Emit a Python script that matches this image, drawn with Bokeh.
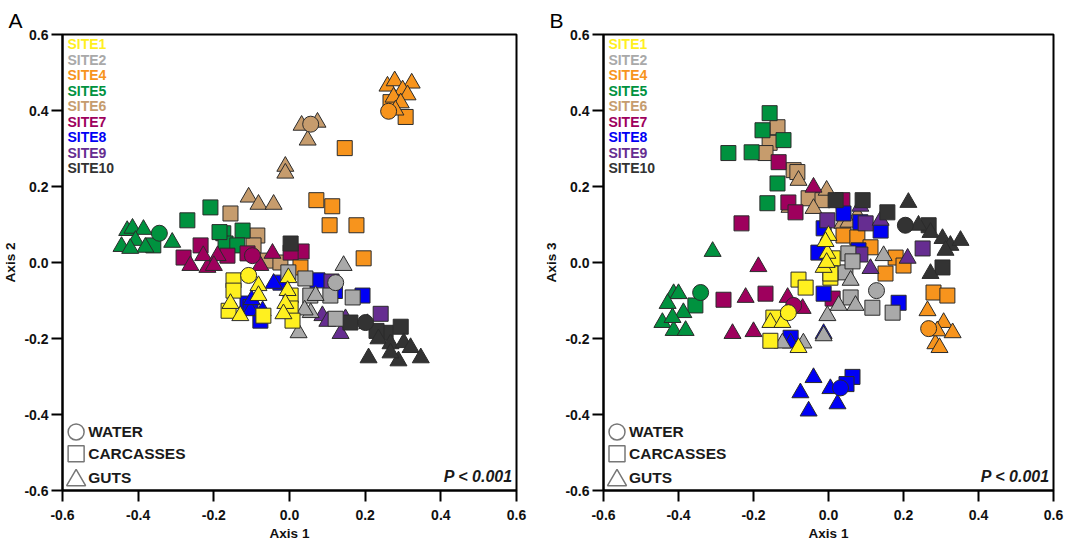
from bokeh.plotting import figure
from bokeh.layouts import row
from bokeh.models import FixedTicker, PrintfTickFormatter, Label
from bokeh.embed import file_html
from bokeh.resources import INLINE

# ---------------- data ----------------
SITES = ["SITE1", "SITE2", "SITE4", "SITE5", "SITE6", "SITE7", "SITE8", "SITE9", "SITE10"]
COLORS = ["#FFF01F", "#A9A9A9", "#F7941D", "#00923F", "#C69C6D",
          "#9E005D", "#0000F5", "#662D91", "#333333"]
TICKS = [-0.6, -0.4, -0.2, 0.0, 0.2, 0.4, 0.6]
SAMPLE_TYPES = ["WATER", "CARCASSES", "GUTS"]
P_TEXT = "P < 0.001"
PANELS = ["A", "B"]
X_LABEL = "Axis 1"
Y_LABELS = ["Axis 2", "Axis 3"]

# panel A (Axis 1 vs Axis 2): c = water, s = carcasses, t = guts
A_SITE1 = {"c": [(-0.108, -0.034)],
           "s": [(-0.148, -0.047), (-0.148, -0.074), (-0.161, -0.127), (-0.069, -0.140),
                 (0.003, -0.087), (0.003, -0.121), (0.008, -0.153)],
           "t": [(-0.082, -0.061), (-0.082, -0.087), (-0.156, -0.108), (-0.130, -0.140),
                 (-0.003, -0.040), (-0.005, -0.074), (-0.011, -0.108), (-0.016, -0.135)]}
A_SITE2 = {"c": [(0.122, -0.053)],
           "s": [(0.042, -0.042), (-0.003, -0.026), (0.108, -0.087), (0.167, -0.092),
                 (0.122, -0.148), (0.055, -0.087)],
           "t": [(0.143, -0.008), (0.069, -0.087), (0.056, -0.132), (0.024, -0.185), (0.040, -0.125)]}
A_SITE4 = {"c": [(0.262, 0.398)],
           "s": [(0.307, 0.383), (0.267, 0.422), (0.146, 0.301), (0.071, 0.164), (0.113, 0.148),
                 (0.106, 0.098), (0.177, 0.098), (0.196, 0.011), (0.029, -0.013)],
           "t": [(0.259, 0.464), (0.278, 0.478), (0.323, 0.472), (0.299, 0.454), (0.312, 0.441),
                 (0.275, 0.435), (0.294, 0.420), (0.280, 0.401)]}
A_SITE5 = {"c": [(-0.344, 0.077)],
           "s": [(-0.270, 0.111), (-0.209, 0.145), (-0.175, 0.077), (-0.169, 0.050), (-0.124, 0.084),
                 (-0.138, 0.045), (-0.185, 0.080), (-0.360, 0.045)],
           "t": [(-0.429, 0.084), (-0.415, 0.090), (-0.386, 0.087), (-0.444, 0.042), (-0.407, 0.058),
                 (-0.381, 0.040), (-0.310, 0.053), (-0.421, 0.037)]}
A_SITE6 = {"c": [(0.056, 0.364)],
           "s": [(-0.156, 0.129), (-0.085, 0.071), (-0.095, 0.045), (-0.058, 0.005), (-0.024, 0.000)],
           "t": [(0.032, 0.361), (0.074, 0.369), (0.048, 0.322), (-0.011, 0.253), (-0.011, 0.235),
                 (-0.108, 0.172), (-0.082, 0.153), (-0.042, 0.153)]}
A_SITE7 = {"c": [(-0.098, 0.018)],
           "s": [(-0.235, 0.045), (-0.280, 0.013), (-0.164, 0.018), (-0.111, 0.024), (0.032, 0.029),
                 (0.003, 0.026)],
           "t": [(-0.262, -0.008), (-0.217, -0.013), (-0.228, 0.018), (-0.190, 0.018), (-0.200, -0.008),
                 (-0.077, -0.008), (-0.045, 0.024)]}
A_SITE8 = {"c": [],
           "s": [(-0.111, -0.108), (-0.077, -0.153), (0.074, -0.047), (0.193, -0.087), (-0.024, -0.053),
                 (-0.103, -0.117), (0.120, -0.075)],
           "t": [(-0.042, -0.055), (-0.103, -0.127), (-0.071, -0.127), (-0.100, -0.098)]}
A_SITE9 = {"c": [],
           "s": [(0.241, -0.135), (0.111, -0.050)],
           "t": [(0.135, -0.187), (0.087, -0.140), (0.148, -0.148), (0.206, -0.161), (0.100, -0.155)]}
A_SITE10 = {"c": [(0.201, -0.158)],
            "s": [(0.294, -0.169), (0.254, -0.185), (0.161, -0.158), (0.003, 0.050), (0.230, -0.180)],
            "t": [(0.235, -0.201), (0.267, -0.214), (0.302, -0.211), (0.320, -0.224), (0.347, -0.251),
                  (0.288, -0.259), (0.209, -0.251), (0.267, -0.238)]}

# panel B (Axis 1 vs Axis 3)
B_SITE1 = {"c": [(-0.107, -0.132)],
           "s": [(-0.080, -0.045), (-0.061, -0.066), (-0.155, -0.206), (-0.147, -0.145),
                 (0.005, -0.040), (0.011, 0.011), (0.005, -0.029)],
           "t": [(-0.155, -0.158), (-0.123, -0.158), (-0.080, -0.224), (0.000, 0.071), (-0.003, 0.024),
                 (-0.013, -0.013), (-0.008, 0.055), (-0.005, 0.000)]}
B_SITE2 = {"c": [(0.128, -0.074)],
           "s": [(0.053, 0.024), (0.045, -0.026), (0.059, -0.092), (0.117, -0.119), (0.171, -0.132),
                 (0.064, 0.003)],
           "t": [(0.147, 0.018), (0.059, -0.047), (0.027, -0.113), (0.072, -0.113), (-0.003, -0.140),
                 (-0.013, -0.193), (-0.123, -0.212), (-0.067, -0.212)]}
B_SITE4 = {"c": [(0.267, -0.174)],
           "s": [(0.040, 0.071), (0.077, 0.066), (0.112, 0.040), (0.179, 0.013), (0.200, -0.008),
                 (0.152, -0.029), (0.280, -0.079), (0.317, -0.087)],
           "t": [(0.264, -0.127), (0.307, -0.158), (0.331, -0.185), (0.285, -0.214), (0.296, -0.224),
                 (0.290, -0.180)]}
B_SITE5 = {"c": [(-0.341, -0.079)],
           "s": [(-0.157, 0.393), (-0.176, 0.348), (-0.120, 0.322), (-0.267, 0.288), (-0.205, 0.290),
                 (-0.136, 0.208), (-0.163, 0.156), (-0.355, -0.113)],
           "t": [(-0.309, 0.029), (-0.413, -0.082), (-0.400, -0.082), (-0.429, -0.108), (-0.387, -0.132),
                 (-0.443, -0.158), (-0.413, -0.179), (-0.381, -0.179), (-0.416, -0.145)]}
B_SITE6 = {"c": [],
           "s": [(-0.136, 0.356), (-0.157, 0.315), (-0.168, 0.288), (-0.093, 0.243), (-0.053, 0.169),
                 (-0.016, 0.164), (-0.083, 0.238)],
           "t": [(-0.080, 0.216), (-0.104, 0.145), (-0.040, 0.142), (-0.005, 0.190), (0.077, 0.124),
                 (0.037, 0.103), (0.053, 0.106)]}
B_SITE7 = {"c": [(-0.093, -0.113)],
           "s": [(-0.133, 0.264), (-0.232, 0.103), (-0.107, 0.158), (-0.088, 0.132), (0.037, 0.164),
                 (-0.280, -0.098), (-0.168, -0.082), (0.011, -0.095)],
           "t": [(-0.187, -0.011), (-0.221, -0.092), (-0.109, -0.092), (-0.256, -0.187), (-0.200, -0.182),
                 (-0.069, -0.121), (-0.040, 0.198)]}
B_SITE8 = {"c": [(0.032, -0.330)],
           "s": [(0.064, -0.301), (0.048, -0.320), (-0.101, -0.198), (-0.013, -0.082), (0.040, 0.129),
                 (-0.013, 0.090), (0.085, 0.106), (0.139, 0.084), (-0.027, 0.026), (0.187, -0.106),
                 (0.080, 0.032)],
           "t": [(-0.040, -0.303), (-0.075, -0.343), (-0.053, -0.391), (0.005, -0.332), (0.024, -0.372),
                 (-0.013, -0.187), (-0.101, -0.212)]}
B_SITE9 = {"c": [],
           "s": [(-0.003, 0.111), (0.099, 0.103), (0.251, 0.037), (0.085, 0.021)],
           "t": [(0.139, 0.111), (0.112, -0.016), (0.211, 0.011), (0.085, 0.148)]}
B_SITE10 = {"c": [(0.205, 0.098)],
            "s": [(0.091, 0.164), (0.157, 0.132), (0.267, 0.098), (0.304, -0.013), (0.019, 0.164)],
            "t": [(0.213, 0.158), (0.240, 0.098), (0.272, 0.079), (0.304, 0.063), (0.325, 0.045),
                  (0.352, 0.058), (0.312, 0.032), (0.272, -0.029)]}

A_DATA = [A_SITE1, A_SITE2, A_SITE4, A_SITE5, A_SITE6, A_SITE7, A_SITE8, A_SITE9, A_SITE10]
B_DATA = [B_SITE1, B_SITE2, B_SITE4, B_SITE5, B_SITE6, B_SITE7, B_SITE8, B_SITE9, B_SITE10]

# ---------------- styling ----------------
FONT = "Liberation Sans"
MARKERS = {"c": ("circle", 16), "s": ("square", 15), "t": ("triangle", 17)}
DRAW_ORDER = [4, 3, 5, 2, 6, 7, 8, 1, 0]


def make_panel(letter, ylab, data, frame_w, left_border, right_border):
    p = figure(frame_width=frame_w, frame_height=456,
               x_range=(-0.6, 0.6), y_range=(-0.6, 0.6),
               output_backend="svg", toolbar_location=None,
               min_border_left=left_border, min_border_right=right_border,
               min_border_top=34, min_border_bottom=54)
    p.background_fill_color = "white"
    p.border_fill_color = "white"
    p.outline_line_color = "black"
    p.outline_line_width = 2
    p.xgrid.visible = False
    p.ygrid.visible = False

    p.title.text = letter
    p.title.text_font = FONT
    p.title.text_font_size = "21px"
    p.title.text_font_style = "normal"
    p.title.text_color = "black"
    p.title.align = "left"
    p.title.offset = -54
    p.title.standoff = 6

    for ax, lab in ((p.xaxis, X_LABEL), (p.yaxis, ylab)):
        ax.ticker = FixedTicker(ticks=TICKS)
        ax.formatter = PrintfTickFormatter(format="%.1f")
        ax.axis_label = lab
        ax.axis_label_text_font = FONT
        ax.axis_label_text_font_style = "bold"
        ax.axis_label_text_font_size = "13.5px"
        ax.axis_label_text_color = "#111111"
        ax.major_label_text_font = FONT
        ax.major_label_text_font_style = "bold"
        ax.major_label_text_font_size = "14px"
        ax.major_label_text_color = "#111111"
        ax.axis_line_width = 2
        ax.axis_line_color = "black"
        ax.major_tick_line_width = 2
        ax.major_tick_line_color = "black"
        ax.major_tick_out = 11
        ax.major_tick_in = 0
        ax.minor_tick_line_color = None
    p.xaxis.major_label_standoff = 8
    p.xaxis.axis_label_standoff = 3
    p.yaxis.major_label_standoff = 3
    p.yaxis.axis_label_standoff = 3

    for i in DRAW_ORDER:
        site = data[i]
        for kind in ("s", "t", "c"):
            pts = site[kind]
            if not pts:
                continue
            marker, size = MARKERS[kind]
            p.scatter([q[0] for q in pts], [q[1] for q in pts], marker=marker, size=size,
                      fill_color=COLORS[i], line_color="#2b2b2b", line_width=1)

    # site legend (coloured text)
    for i, name in enumerate(SITES):
        p.add_layout(Label(x=-0.587, y=0.575 - i * 0.0409, text=name, text_color=COLORS[i],
                           text_font=FONT, text_font_style="bold", text_font_size="14px",
                           text_baseline="middle", text_align="left"))

    # sample type legend
    leg_y = [-0.446, -0.503, -0.565]
    for (kind, yy, txt) in zip(("c", "s", "t"), leg_y, SAMPLE_TYPES):
        marker, _ = MARKERS[kind]
        sz = {"c": 16, "s": 16, "t": 19}[kind]
        p.scatter([-0.564], [yy - (0.008 if kind == "t" else 0.0)], marker=marker, size=sz,
                  fill_color="white", line_color="#777777", line_width=1.5)
        p.add_layout(Label(x=-0.532, y=yy, text=txt, text_color="#1a1a1a",
                           text_font=FONT, text_font_style="bold", text_font_size="15.5px",
                           text_baseline="middle", text_align="left"))

    p.add_layout(Label(x=0.59, y=-0.563, text=P_TEXT, text_color="#1a1a1a",
                       text_font=FONT, text_font_style="bold italic", text_font_size="16px",
                       text_baseline="middle", text_align="right"))
    return p


pA = make_panel(PANELS[0], Y_LABELS[0], A_DATA, 454, 62, 25)
pB = make_panel(PANELS[1], Y_LABELS[1], B_DATA, 450, 62, 13)

layout = row(pA, pB)
open("out.html", "w").write(file_html(layout, INLINE))
